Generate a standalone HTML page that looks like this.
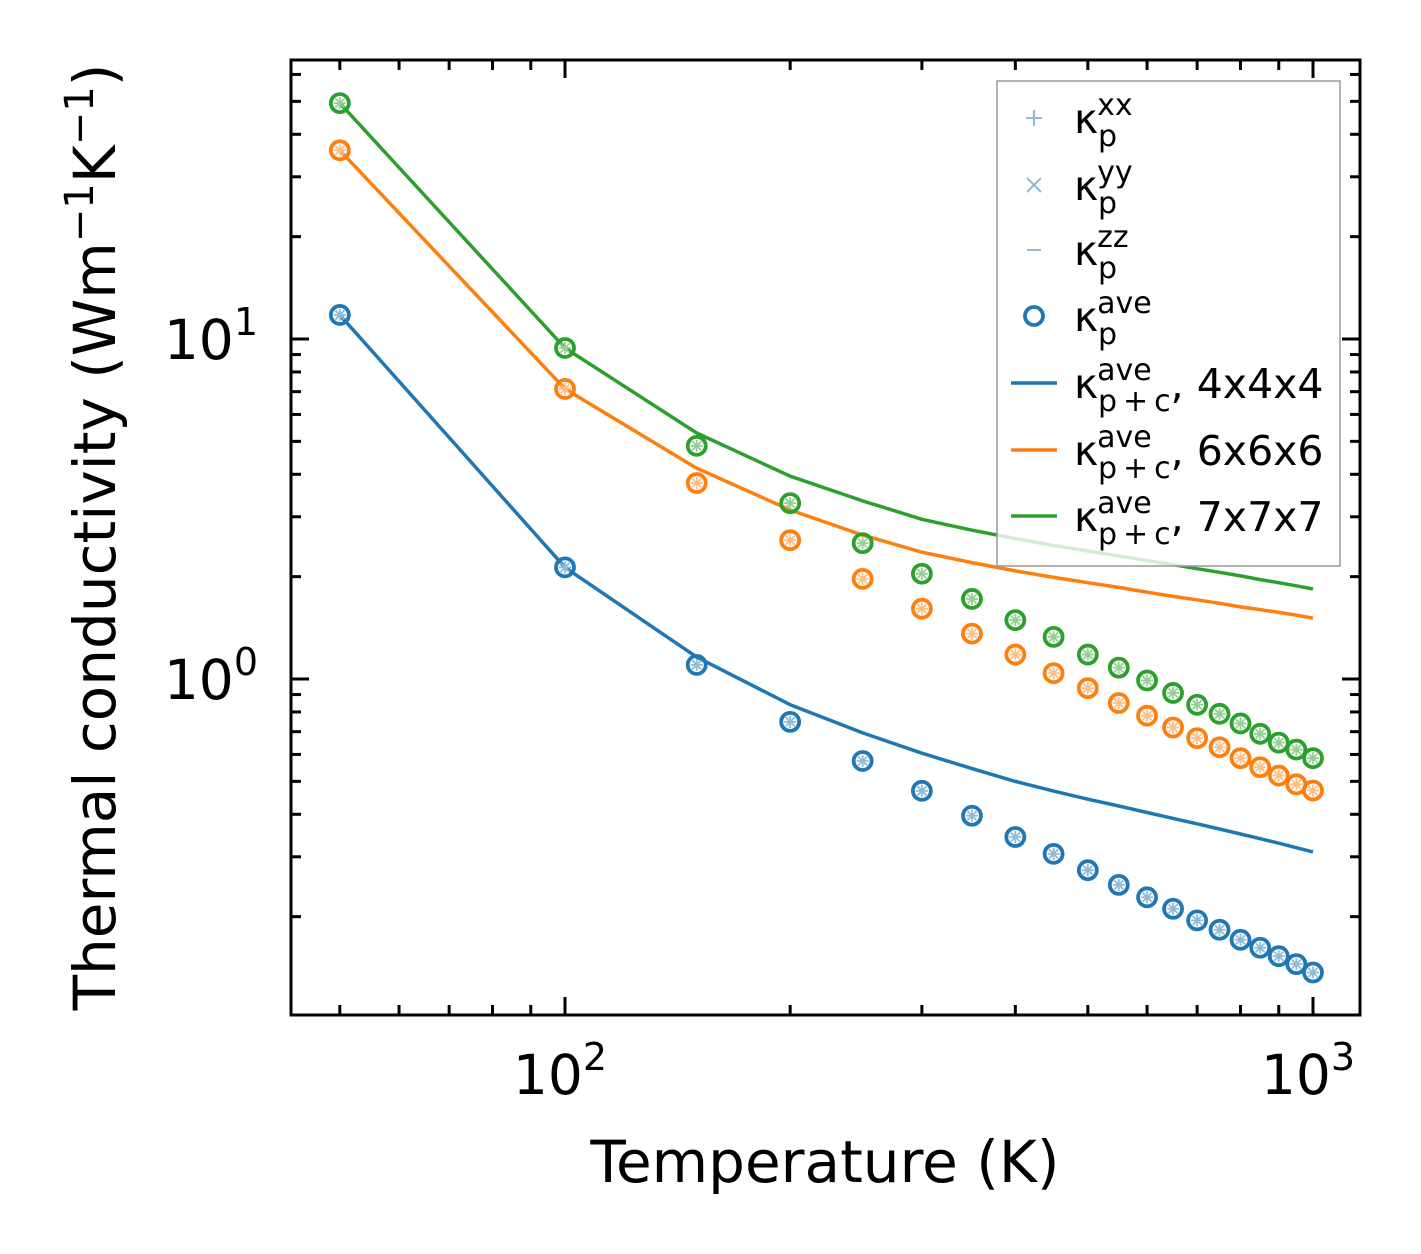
<!DOCTYPE html>
<html><head><meta charset="utf-8"><style>
body{margin:0;background:#fff;}
svg{display:block;font-family:"DejaVu Sans","Liberation Sans",sans-serif;}
</style></head><body>
<svg id="chart" width="1421" height="1254" viewBox="0 0 1421 1254" xmlns="http://www.w3.org/2000/svg">
<rect width="1421" height="1254" fill="#fff"/>
<g id="plot"></g>
</svg>
<script>
const temps=[50,100,150,200,250,300,350,400,450,500,550,600,650,700,750,800,850,900,950,1000];
const kp4=[11.77,2.13,1.10,0.748,0.574,0.469,0.396,0.343,0.306,0.274,0.248,0.228,0.211,0.195,0.183,0.171,0.162,0.153,0.145,0.137];
const kp6=[35.9,7.13,3.77,2.56,1.97,1.61,1.36,1.18,1.04,0.94,0.85,0.78,0.72,0.67,0.63,0.585,0.55,0.52,0.49,0.47];
const kp7=[49.4,9.41,4.85,3.29,2.51,2.04,1.72,1.49,1.33,1.18,1.08,0.99,0.91,0.84,0.79,0.74,0.69,0.65,0.62,0.585];
const kpc4=[11.77,2.13,1.16,0.84,0.694,0.605,0.545,0.50,0.468,0.443,0.423,0.405,0.389,0.375,0.362,0.350,0.339,0.329,0.319,0.31];
const kpc6=[35.9,7.13,4.17,3.14,2.65,2.36,2.20,2.08,1.99,1.92,1.86,1.80,1.75,1.71,1.67,1.63,1.60,1.57,1.54,1.51];
const kpc7=[49.4,9.41,5.29,3.95,3.34,2.95,2.74,2.59,2.47,2.38,2.30,2.23,2.17,2.11,2.06,2.01,1.96,1.92,1.88,1.84];
const xMajor=[100,1000];
const xMajorLabels=["2","3"];
const yMajor=[1,10];
const yMajorLabels=["0","1"];

const NS="http://www.w3.org/2000/svg";
const L=291,R=1360,T=60,B=1015;
const sx=v=>565+748*(Math.log10(v)-2);
const sy=v=>679-340*Math.log10(v);
const g=document.getElementById('plot');
function el(tag,attrs,parent){const e=document.createElementNS(NS,tag);for(const k in attrs)e.setAttribute(k,attrs[k]);(parent||g).appendChild(e);return e;}

const cols=["#1f77b4","#ff7f0e","#2ca02c"];
const light=["#8fbbd9","#ffbf87","#95cf95"];
const pts=[kp4,kp6,kp7], lines=[kpc4,kpc6,kpc7];
const sizes=["4x4x4","6x6x6","7x7x7"];

lines.forEach((arr,i)=>{
  const d=temps.map((t,j)=>(j?'L':'M')+sx(t).toFixed(1)+','+sy(arr[j]).toFixed(1)).join('');
  const p=el('path',{d:d,fill:'none',stroke:cols[i],'stroke-width':3.5,'stroke-linejoin':'round'});
  
  
});
pts.forEach((arr,i)=>{
  const grp=el('g',{});
  
  
  temps.forEach((t,j)=>{
    const x=sx(t),y=sy(arr[j]);
    el('path',{d:`M${x-6},${y}H${x+6}M${x},${y-6}V${y+6}M${x-4.5},${y-4.5}L${x+4.5},${y+4.5}M${x-4.5},${y+4.5}L${x+4.5},${y-4.5}`,stroke:light[i],'stroke-width':1.8},grp);
    const c=el('circle',{cx:x,cy:y,r:9,fill:'none',stroke:cols[i],'stroke-width':3.8},grp);
    
    
  });
});

const ticks=el('g',{stroke:'#000','stroke-width':3});


function xt(v,len){const x=sx(v);el('line',{x1:x,x2:x,y1:B,y2:B-len},ticks);el('line',{x1:x,x2:x,y1:T,y2:T+len},ticks);}
function yt(v,len){const y=sy(v);el('line',{x1:L,x2:L+len,y1:y,y2:y},ticks);el('line',{x1:R,x2:R-len,y1:y,y2:y},ticks);}
[50,60,70,80,90,200,300,400,500,600,700,800,900].forEach(v=>xt(v,10));
xMajor.forEach(v=>xt(v,18));
[0.2,0.3,0.4,0.5,0.6,0.7,0.8,0.9,2,3,4,5,6,7,8,9,20,30,40,50,60].forEach(v=>yt(v,10));
yMajor.forEach(v=>yt(v,18));

const frame=el('rect',{x:L,y:T,width:R-L,height:B-T,fill:'none',stroke:'#000','stroke-width':3});



xMajor.forEach((v,i)=>{
  const t=el('text',{x:sx(v)-5,y:1094,'font-size':55,'text-anchor':'middle',fill:'#000'});
  
  
  t.innerHTML='10<tspan font-size="38" dy="-24">'+xMajorLabels[i]+'</tspan>';
});
yMajor.forEach((v,i)=>{
  const t=el('text',{x:258,y:sy(v)+20,'font-size':55,'text-anchor':'end',fill:'#000'});
  
  
  t.innerHTML='10<tspan font-size="38" dy="-24">'+yMajorLabels[i]+'</tspan>';
});

const xl=el('text',{x:825,y:1182,'font-size':58,'text-anchor':'middle',fill:'#000'});


xl.textContent='Temperature (K)';
const yl=el('text',{x:0,y:0,'font-size':58,'text-anchor':'middle',fill:'#000',transform:'translate(115,537) rotate(-90)'});


yl.innerHTML='Thermal conductivity (Wm<tspan font-size="40" dy="-22">−1</tspan><tspan dy="22">K</tspan><tspan font-size="40" dy="-22">−1</tspan><tspan dy="22">)</tspan>';

const lg=el('g',{});


el('rect',{x:997,y:81,width:343,height:485,fill:'#fff','fill-opacity':0.8,stroke:'#999','stroke-width':1.5},lg);
const ly=[118,185,250,316,383,450,516];
const sups=['xx','yy','zz','ave','ave','ave','ave'];
const subs=['p','p','p','p','p + c','p + c','p + c'];
const tails=['','','','',', 4x4x4',', 6x6x6',', 7x7x7'];
ly.forEach((y,i)=>{
  const hx=1034;
  if(i===0) el('path',{d:`M${hx-8},${y}H${hx+8}M${hx},${y-8}V${y+8}`,stroke:light[0],'stroke-width':2},lg);
  if(i===1) el('path',{d:`M${hx-7},${y-7}L${hx+7},${y+7}M${hx-7},${y+7}L${hx+7},${y-7}`,stroke:light[0],'stroke-width':2},lg);
  if(i===2) el('path',{d:`M${hx-7},${y}H${hx+7}`,stroke:light[0],'stroke-width':2},lg);
  if(i===3) el('circle',{cx:hx,cy:y,r:9,fill:'none',stroke:cols[0],'stroke-width':3.8},lg);
  if(i>=4) el('line',{x1:1011,x2:1057,y1:y,y2:y,stroke:cols[i-4],'stroke-width':3.5},lg);
  const t=el('text',{x:1074,y:y+15,'font-size':41,fill:'#000'},lg);
  
  
  t.innerHTML='κ<tspan font-size="30" dx="-1" dy="-18">'+sups[i]+'</tspan><tspan font-size="30" x="1098" dy="31">'+subs[i].replace(/ /g,'\u2009')+'</tspan><tspan dy="-13">'+tails[i]+'</tspan>';
});
</script>
</body></html>
